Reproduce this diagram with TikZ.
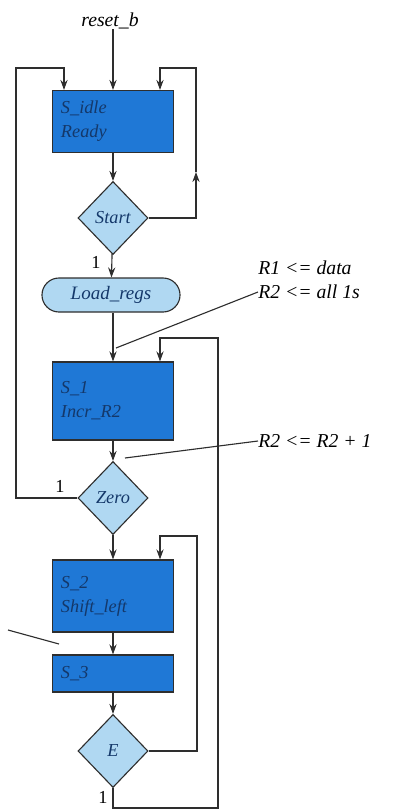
\documentclass[tikz,border=0pt]{standalone}
\usepackage{fontspec}
\setmainfont{Liberation Serif}
\usetikzlibrary{arrows.meta, positioning, shapes.geometric, shapes.misc}
\definecolor{stateBlue}{HTML}{1F78D6}
\definecolor{condBlue}{HTML}{B0D8F2}
\definecolor{inkNavy}{HTML}{14386A}
\definecolor{lineDark}{HTML}{2E2E2E}
\tikzset{
  flow/.style={-{Stealth[length=2.5mm, width=1.8mm]}, lineDark, line width=0.8pt},
  wire/.style={lineDark, line width=0.8pt},
  stateBox/.style={rectangle, draw=lineDark, line width=0.8pt, fill=stateBlue, text=inkNavy,
                   align=left, font=\itshape\fontsize{13}{17}\selectfont,
                   inner sep=0pt, text width=2.6cm, minimum width=3.025cm},
  condDiamond/.style={diamond, draw=lineDark, line width=0.8pt, fill=condBlue, text=inkNavy,
                      font=\itshape\fontsize{13}{15}\selectfont, inner sep=0pt,
                      minimum width=1.75cm, minimum height=1.825cm},
  actionBox/.style={rounded rectangle, draw=lineDark, line width=0.8pt, fill=condBlue, text=inkNavy,
                    font=\itshape\fontsize{13.5}{15}\selectfont, inner sep=0pt,
                    minimum width=3.45cm, minimum height=0.85cm},
  annot/.style={font=\itshape\fontsize{14}{15}\selectfont, inner sep=0pt, anchor=west},
  tag/.style={font=\fontsize{13}{15}\selectfont, inner sep=0pt},
}
\begin{document}
\begin{tikzpicture}[x=0.025cm, y=-0.025cm]
  \useasboundingbox (0,0) rectangle (395,811);

  % states and decisions
  \node[annot, anchor=center] (rst) at (110,21) {reset\_b};
  \node[stateBox, minimum height=1.55cm] (idle) at (113,121.5) {S\_idle\\Ready};
  \node[condDiamond] (start) at (113,218) {Start};
  \node[actionBox] (load) at (111,295) {Load\_regs};
  \node[stateBox, minimum height=1.95cm] (s1) at (113,401) {S\_1\\Incr\_R2};
  \node[condDiamond] (zero) at (113,498) {Zero};
  \node[stateBox, minimum height=1.8cm] (s2) at (113,596) {S\_2\\Shift\_left};
  \node[stateBox, minimum height=0.925cm] (s3) at (113,673.5) {S\_3};
  \node[condDiamond] (e) at (113,751) {E};

  % register transfers
  \node[annot] (r1txt) at (258,268) {R1 <= data};
  \node[annot] (r2txt) at (258,292) {R2 <= all 1s};
  \node[annot] (r2inc) at (258,441) {R2 <= R2 + 1};

  % corner points of the loops
  \coordinate (rmid) at (196,172);
  \coordinate (rtop) at (160,68);
  \coordinate (ltop) at (64,68);
  \coordinate (s1top) at (160,338);
  \coordinate (s1side) at (218,808);
  \coordinate (s2top) at (160,536);
  \coordinate (s2side) at (197,751);
  \coordinate (p1) at (116,348);
  \coordinate (p2) at (125,458);
  \coordinate (q1) at (8,630);
  \coordinate (q2) at (59,644);

  % main path
  \draw[flow] (rst.south -| idle) -- (idle);
  \draw[flow] (idle) -- (start);
  \draw[flow] (start) -- (load);
  \draw[flow] (load.south -| start) -- (s1.north -| start);
  \draw[flow] (s1) -- (zero);
  \draw[flow] (zero) -- (s2);
  \draw[flow] (s2) -- (s3);
  \draw[flow] (s3) -- (e);

  % loops back
  \draw[flow] (start.east) -| (rmid);
  \draw[flow] (rmid) |- (rtop) -- (idle.north -| rtop);
  \draw[flow] (zero.west) -| (16,68) -- (ltop) -- (idle.north -| ltop);
  \draw[flow] (e.south) |- (s1side) |- (s1top) -- (s1.north -| s1top);
  \draw[flow] (e.east) -- (s2side) |- (s2top) -- (s2.north -| s2top);

  % labels on the exits
  \node[tag] (one1) at (96,262) {1};
  \node[tag] (one2) at (60,486) {1};
  \node[tag] (one3) at (103,797) {1};

  % pointer lines
  \draw[wire] (r2txt.west) -- (p1);
  \draw[wire] (r2inc.west) -- (p2);
  \draw[wire] (q1) -- (q2);
\end{tikzpicture}
\end{document}
